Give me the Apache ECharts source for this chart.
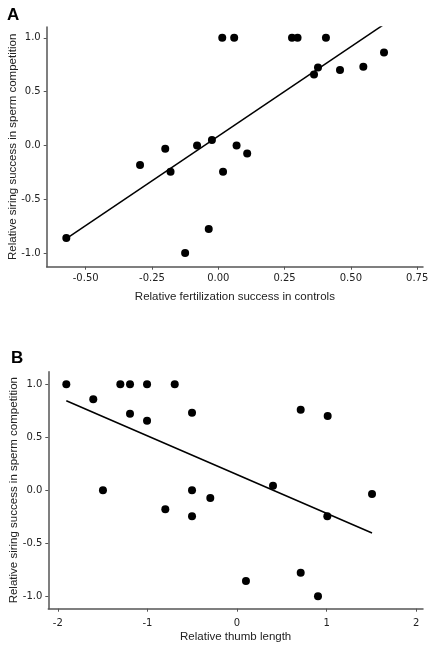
<!DOCTYPE html>
<html>
<head>
<meta charset="utf-8">
<script src="https://cdn.jsdelivr.net/npm/echarts@6/dist/echarts.min.js"></script>
<style>
html,body{margin:0;padding:0;background:#fff;}
#c{width:430px;height:647px;}
</style>
</head>
<body>
<div id="c"></div>
<script>
// Panel A data
const fertX = [0.015, 0.06, 0.278, 0.299, 0.406, 0.625, 0.376, 0.361, 0.459, 0.547,
  -0.20, -0.08, -0.024, 0.069, 0.109, -0.295, -0.18, 0.018, -0.573, -0.036, -0.125];
const siringA = [1.0, 1.0, 1.0, 1.0, 1.0, 0.864, 0.725, 0.66, 0.70, 0.73,
  -0.03, 0.0, 0.05, 0.0, -0.074, -0.18, -0.244, -0.244, -0.858, -0.774, -0.997];
// Panel B data
const thumbX = [-1.905, -1.604, -1.302, -1.194, -1.004, -0.695, -1.194, -1.004, -0.502, 0.711, 1.012,
  -1.496, -0.502, -0.298, -0.80, -0.502, 0.402, 1.507, 1.008, 0.10, 0.711, 0.904];
const siringB = [1.0, 0.858, 1.0, 1.0, 1.0, 1.0, 0.723, 0.657, 0.732, 0.760, 0.701,
  0.0, 0.0, -0.073, -0.179, -0.245, 0.044, -0.035, -0.245, -0.856, -0.777, -1.0];
// Tick values / labels
const xTicksA = [-0.5, -0.25, 0, 0.25, 0.5, 0.75];
const xLabelsA = ['-0.50', '-0.25', '0.00', '0.25', '0.50', '0.75'];
const xTicksB = [-2, -1, 0, 1, 2];
const xLabelsB = ['-2', '-1', '0', '1', '2'];
const yTicks = [-1, -0.5, 0, 0.5, 1];
const yLabels = ['-1.0', '-0.5', '0.0', '0.5', '1.0'];

function fit(xs, ys) {
  const n = xs.length;
  const mx = xs.reduce((a, b) => a + b, 0) / n;
  const my = ys.reduce((a, b) => a + b, 0) / n;
  let sxy = 0, sxx = 0;
  for (let i = 0; i < n; i++) { sxy += (xs[i] - mx) * (ys[i] - my); sxx += (xs[i] - mx) ** 2; }
  const b = sxy / sxx, a = my - b * mx;
  const x0 = Math.min(...xs), x1 = Math.max(...xs);
  return [[x0, a + b * x0], [x1, a + b * x1]];
}
const pairs = (xs, ys) => xs.map((x, i) => [x, ys[i]]);
function labelFor(ticks, labels) {
  return v => {
    let best = 0;
    for (let i = 1; i < ticks.length; i++) if (Math.abs(ticks[i] - v) < Math.abs(ticks[best] - v)) best = i;
    return labels[best];
  };
}

const FONT = 'DejaVu Sans';
const axisCol = '#555';
const labelCol = '#222';

function xAxis(idx, min, max, ticks, labels, name, gap, margin) {
  return {
    type: 'value', gridIndex: idx, min: min, max: max,
    splitLine: { show: false },
    axisLine: { show: true, onZero: false, lineStyle: { color: axisCol, width: 1.5 } },
    axisTick: { show: true, customValues: ticks, length: 3, lineStyle: { color: axisCol } },
    axisLabel: { customValues: ticks, formatter: labelFor(ticks, labels), color: labelCol, fontFamily: FONT, fontSize: 10, margin: margin },
    name: name, nameLocation: 'middle', nameGap: gap, nameMoveOverlap: false,
    nameTextStyle: { fontFamily: 'Liberation Sans', fontSize: 11.5, color: labelCol }
  };
}
function yAxis(idx, min, max) {
  return {
    type: 'value', gridIndex: idx, min: min, max: max,
    splitLine: { show: false },
    axisLine: { show: true, onZero: false, lineStyle: { color: axisCol, width: 1.5 } },
    axisTick: { show: true, customValues: yTicks, length: 3, lineStyle: { color: axisCol } },
    axisLabel: { customValues: yTicks, formatter: labelFor(yTicks, yLabels), color: labelCol, fontFamily: FONT, fontSize: 10, margin: 6 },
    name: 'Relative siring success in sperm competition', nameLocation: 'middle', nameGap: 28, nameRotate: 90, nameMoveOverlap: false,
    nameTextStyle: { fontFamily: 'Liberation Sans', fontSize: 11.5, color: labelCol }
  };
}

const chart = echarts.init(document.getElementById('c'), null, { renderer: 'canvas' });
chart.setOption({
  animation: false,
  backgroundColor: '#fff',
  title: [
    { text: 'A', left: 2, top: 2, textStyle: { fontFamily: 'Liberation Sans', fontWeight: 'bold', fontSize: 17, color: '#000' } },
    { text: 'B', left: 6, top: 345, textStyle: { fontFamily: 'Liberation Sans', fontWeight: 'bold', fontSize: 17, color: '#000' } }
  ],
  grid: [
    { left: 46.7, right: 7, top: 27, bottom: 380.3, outerBoundsMode: 'none', containLabel: false },
    { left: 48.3, right: 7, top: 371.7, bottom: 38.3, outerBoundsMode: 'none', containLabel: false }
  ],
  xAxis: [
    xAxis(0, -0.647, 0.772, xTicksA, xLabelsA, 'Relative fertilization success in controls', 24, 7),
    xAxis(1, -2.106, 2.076, xTicksB, xLabelsB, 'Relative thumb length', 22, 10)
  ],
  yAxis: [yAxis(0, -1.125, 1.10), yAxis(1, -1.117, 1.119)],
  series: [
    { type: 'line', xAxisIndex: 0, yAxisIndex: 0, data: fit(fertX, siringA), showSymbol: false, symbol: 'none', clip: true,
      lineStyle: { color: '#000', width: 1.5 }, z: 2 },
    { type: 'scatter', xAxisIndex: 0, yAxisIndex: 0, data: pairs(fertX, siringA), symbolSize: 8,
      itemStyle: { color: '#000', opacity: 1 }, z: 3 },
    { type: 'line', xAxisIndex: 1, yAxisIndex: 1, data: fit(thumbX, siringB), showSymbol: false, symbol: 'none', clip: true,
      lineStyle: { color: '#000', width: 1.5 }, z: 2 },
    { type: 'scatter', xAxisIndex: 1, yAxisIndex: 1, data: pairs(thumbX, siringB), symbolSize: 8,
      itemStyle: { color: '#000', opacity: 1 }, z: 3 }
  ]
});
</script>
</body>
</html>
